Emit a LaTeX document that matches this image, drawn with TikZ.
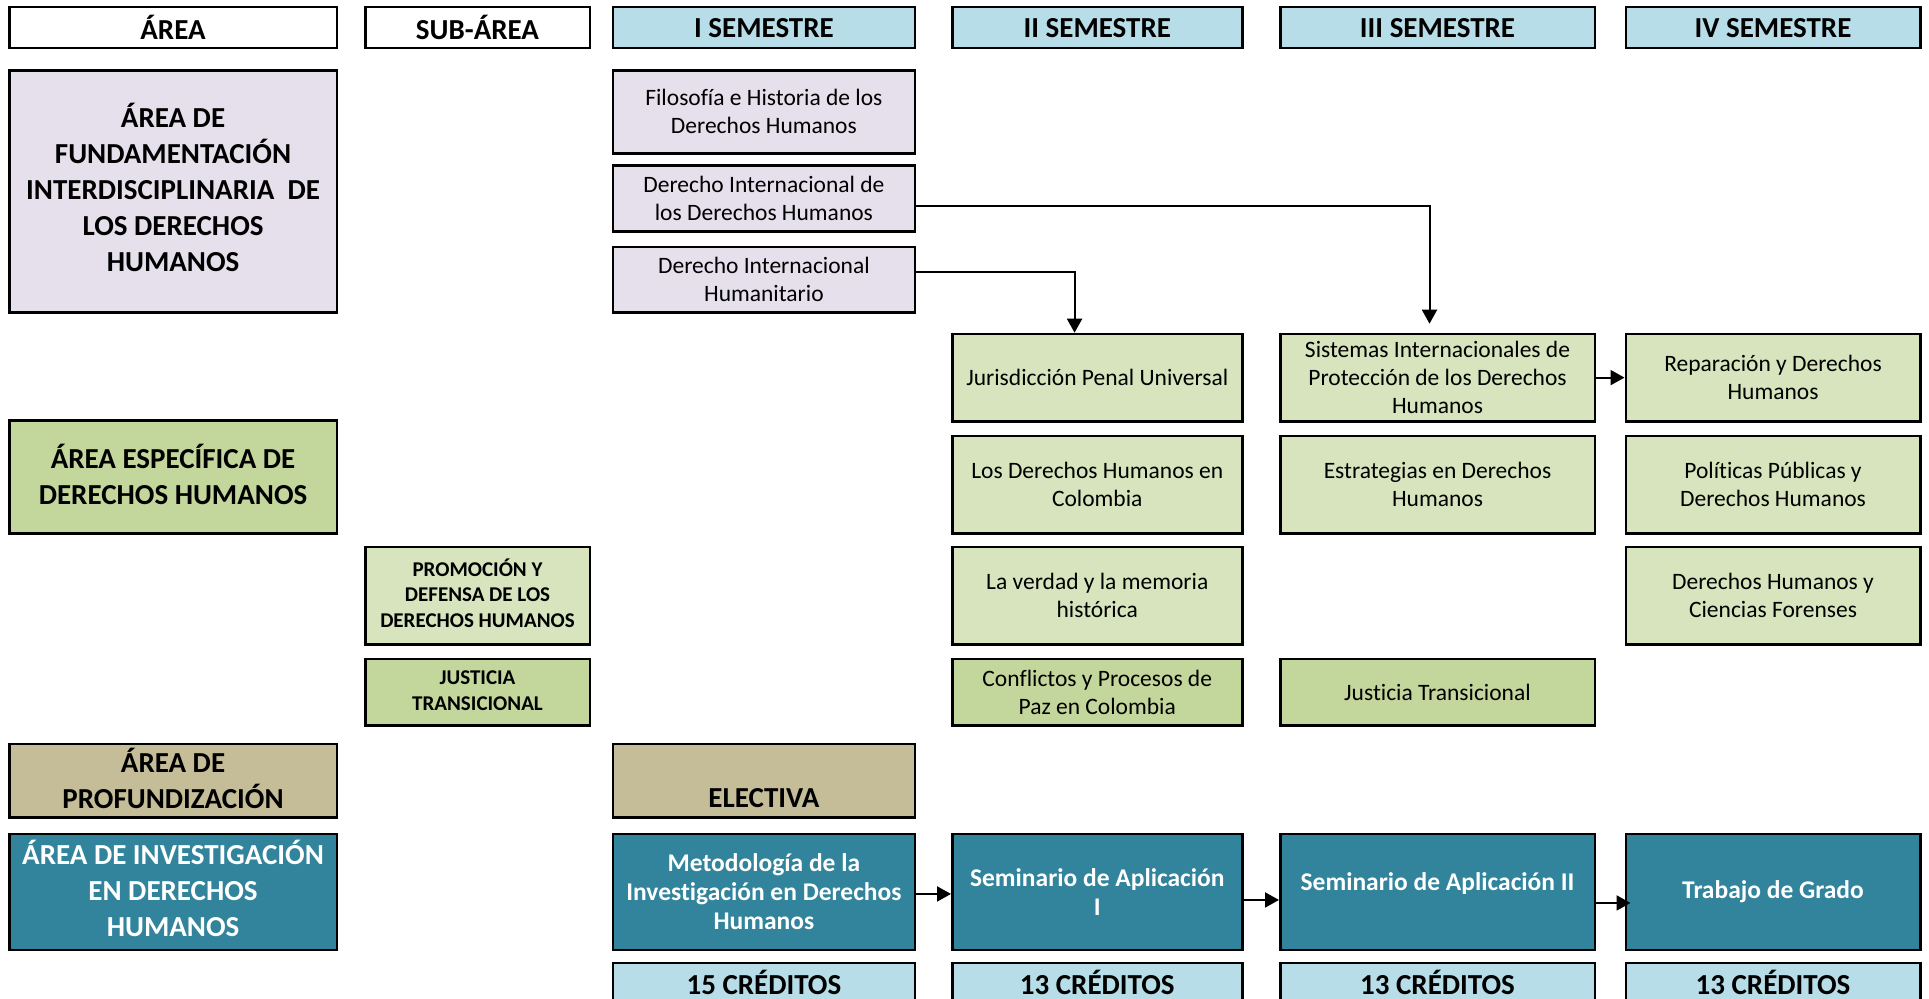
\documentclass[tikz,border=0pt]{standalone}
\usepackage{fontspec}
\setmainfont{Carlito}[Ligatures=NoCommon]
\usetikzlibrary{arrows.meta}
\definecolor{hblue}{HTML}{B7DEE8}
\definecolor{lav}{HTML}{E5E0EC}
\definecolor{lgreen}{HTML}{D7E4BD}
\definecolor{dgreen}{HTML}{C3D69B}
\definecolor{cTan}{HTML}{C4BD97}
\definecolor{cTeal}{HTML}{31849B}
\newcommand\mybox[7]{\node[#2, minimum width={(#5)-(#3)}, minimum height={(#6)-(#4)}] (#1) at (#3,-#4) {#7};}
% box with separately placed text: name, box style, x1,y1,x2,y2, text style, dy, text
\newcommand\mytbox[9]{\node[#2, minimum width={(#5)-(#3)}, minimum height={(#6)-(#4)}] (#1) at (#3,-#4) {};
  \node[#7] (#1t) at ([yshift=#8]#1.center) {#9};}
\tikzset{
  box/.style={draw=black, line width=2.5pt, inner sep=0pt, align=center, anchor=north west},
  hdr/.style={box, fill=hblue, font=\fontsize{29}{35}\selectfont\bfseries},
  hdrw/.style={box, fill=white, font=\fontsize{29}{35}\selectfont\bfseries},
  area/.style={box},
  areatext/.style={font=\fontsize{29}{36}\selectfont\bfseries, inner sep=0pt, align=center},
  sub/.style={box},
  subtext/.style={font=\fontsize{21}{25.8}\selectfont\bfseries, inner sep=0pt, align=center},
  crs/.style={box, font=\fontsize{23.5}{28}\selectfont},
  tl/.style={box, fill=cTeal, text=white, font=\fontsize{25.5}{29}\selectfont\bfseries},
  tltext/.style={text=white, font=\fontsize{25.5}{29}\selectfont\bfseries, inner sep=0pt, align=center},
  arr/.style={line width=2pt, -{Triangle[length=14pt,width=15pt]}}
}
\begin{document}
\begin{tikzpicture}[x=1pt,y=1pt]
\useasboundingbox[fill=white] (0,0) rectangle (1929,-998);
% headers
\mybox{hA}{hdrw}{8}{5.7}{335.6}{47}{ÁREA}
\mybox{hS}{hdrw}{364}{5.7}{588.5}{47}{SUB-ÁREA}
\mybox{h1}{hdr}{611.7}{5.7}{913.6}{47}{I SEMESTRE}
\mybox{h2}{hdr}{951}{5.7}{1241}{47}{II SEMESTRE}
\mybox{h3}{hdr}{1279}{5.7}{1593.5}{47}{III SEMESTRE}
\mybox{h4}{hdr}{1624.5}{5.7}{1919}{47}{IV SEMESTRE}
% areas
\mytbox{aF}{area, fill=lav}{8}{69}{335.6}{311}{areatext}{3.5pt}{ÁREA DE\\FUNDAMENTACIÓN\\INTERDISCIPLINARIA\ \ DE\\LOS DERECHOS\\HUMANOS}
\mytbox{aE}{area, fill=dgreen}{8}{419.3}{335.6}{532}{areatext}{2.5pt}{ÁREA ESPECÍFICA DE\\DERECHOS HUMANOS}
\mytbox{aP}{area, fill=cTan}{8}{742.7}{335.6}{816.3}{areatext}{2.5pt}{ÁREA DE\\PROFUNDIZACIÓN}
\mytbox{aI}{area, fill=cTeal}{8}{832.7}{335.6}{948.7}{areatext, text=white}{3.5pt}{ÁREA DE INVESTIGACIÓN\\EN DERECHOS\\HUMANOS}
% sub-areas
\mytbox{sP}{sub, fill=lgreen}{364}{545.7}{588.5}{643}{subtext}{2.5pt}{PROMOCIÓN Y\\DEFENSA DE LOS\\DERECHOS HUMANOS}
\mytbox{sJ}{sub, fill=dgreen}{364}{657.7}{588.5}{724}{subtext}{1.5pt}{JUSTICIA\\TRANSICIONAL}
% courses
\mybox{fil}{crs, fill=lav}{611.7}{69}{913.6}{152}{Filosofía e Historia de los\\Derechos Humanos}
\mybox{didh}{crs, fill=lav}{611.7}{164}{913.6}{230}{Derecho Internacional de\\los Derechos Humanos}
\mybox{dih}{crs, fill=lav}{611.7}{245.7}{913.6}{311}{Derecho Internacional\\Humanitario}
\mybox{jur}{crs, fill=lgreen}{951}{332.7}{1241}{420}{Jurisdicción Penal Universal}
\mybox{sis}{crs, fill=lgreen}{1279}{332.7}{1593.5}{420}{Sistemas Internacionales de\\Protección de los Derechos\\Humanos}
\mybox{rep}{crs, fill=lgreen}{1624.5}{332.7}{1919}{420}{Reparación y Derechos\\Humanos}
\mybox{col}{crs, fill=lgreen}{951}{434.7}{1241}{532}{Los Derechos Humanos en\\Colombia}
\mybox{est}{crs, fill=lgreen}{1279}{434.7}{1593.5}{532}{Estrategias en Derechos\\Humanos}
\mybox{pol}{crs, fill=lgreen}{1624.5}{434.7}{1919}{532}{Políticas Públicas y\\Derechos Humanos}
\mybox{ver}{crs, fill=lgreen}{951}{545.7}{1241}{643}{La verdad y la memoria\\histórica}
\mybox{for}{crs, fill=lgreen}{1624.5}{545.7}{1919}{643}{Derechos Humanos y\\Ciencias Forenses}
\mybox{con}{crs, fill=dgreen}{951}{657.7}{1241}{724}{Conflictos y Procesos de\\Paz en Colombia}
\mybox{jt}{crs, fill=dgreen}{1279}{657.7}{1593.5}{724}{Justicia Transicional}
% electiva
\mytbox{ele}{area, fill=cTan}{611.7}{742.7}{913.6}{816.3}{areatext}{-17.5pt}{ELECTIVA}
% research
\mybox{met}{tl}{611.7}{832.7}{913.6}{948.7}{Metodología de la\\Investigación en Derechos\\Humanos}
\mybox{sem1}{tl}{951}{832.7}{1241}{948.7}{Seminario de Aplicación\\I}
\mytbox{sem2}{tl}{1279}{832.7}{1593.5}{948.7}{tltext}{8.5pt}{Seminario de Aplicación II}
\mybox{tra}{tl}{1624.5}{832.7}{1919}{948.7}{Trabajo de Grado}
% credits
\mybox{c1}{hdr}{611.7}{961.7}{913.6}{1000}{15 CRÉDITOS}
\mybox{c2}{hdr}{951}{961.7}{1241}{1000}{13 CRÉDITOS}
\mybox{c3}{hdr}{1279}{961.7}{1593.5}{1000}{13 CRÉDITOS}
\mybox{c4}{hdr}{1624.5}{961.7}{1919}{1000}{13 CRÉDITOS}
% arrows
\draw[arr] ([yshift=-8pt]didh.east) -| ([xshift=-8pt,yshift=9pt]sis.north);
\draw[arr] ([yshift=7.7pt]dih.east) -| ([xshift=-22.7pt]jur.north);
\draw[arr] (sis.east) -- (rep.west);
\draw[arr] ([yshift=-2pt]met.east) -- ([yshift=-2pt]sem1.west);
\draw[arr] ([yshift=-8pt]sem1.east) -- ([yshift=-8pt]sem2.west);
\draw[arr] ([yshift=-11pt]sem2.east) -- ([xshift=6pt,yshift=-11pt]tra.west);
\end{tikzpicture}
\end{document}
